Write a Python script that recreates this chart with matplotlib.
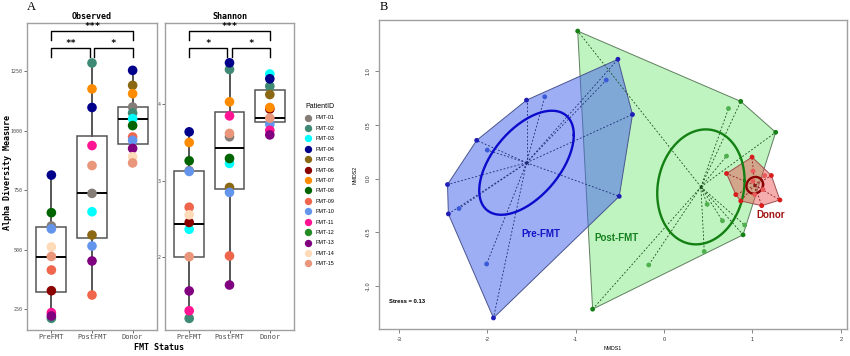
import numpy as np
import matplotlib.pyplot as plt
from matplotlib.lines import Line2D

groups = ['PreFMT', 'PostFMT', 'Donor']
patient_ids = ['FMT-%02d' % i for i in range(1, 16)]
patient_colors = ['#857e78', '#3f8a74', '#00ffff', '#00008b', '#8b6914',
                  '#8b0000', '#ff8c00', '#006400', '#f0664d', '#6495ed',
                  '#ff1493', '#228b22', '#800080', '#ffdab9', '#e9967a']

# alpha diversity, patient number -> value, one dict per group
obs_pre = {1: 600, 2: 212, 4: 814, 6: 328, 8: 656, 9: 415, 10: 588,
           11: 236, 13: 222, 14: 512, 15: 472}
obs_post = {1: 737, 2: 1285, 3: 660, 4: 1098, 5: 562, 7: 1176, 9: 310,
            10: 516, 11: 938, 13: 453, 15: 854}
obs_donor = {1: 1100, 2: 1075, 3: 1051, 4: 1254, 5: 1191, 7: 1156, 8: 1022,
             9: 974, 10: 960, 13: 926, 14: 891, 15: 865}
sha_pre = {1: 3.13, 2: 1.19, 3: 2.36, 4: 3.64, 6: 2.45, 7: 3.50, 8: 3.26,
           9: 2.65, 10: 3.12, 11: 1.29, 13: 1.55, 14: 2.55, 15: 2.00}
sha_post = {1: 3.575, 2: 4.46, 3: 3.225, 4: 4.547, 5: 2.91, 7: 4.035,
            8: 3.29, 9: 2.01, 10: 2.845, 11: 3.85, 13: 1.628, 15: 3.62}
sha_donor = {2: 4.24, 3: 4.40, 4: 4.337, 5: 4.13, 6: 3.94, 7: 3.96,
             10: 3.74, 11: 3.66, 13: 3.60, 15: 3.82}

# box statistics: whisker low, q1, median, q3, whisker high
obs_box = [[212, 324, 468, 597, 814], [310, 551, 737, 979, 1285],
           [865, 944, 1051, 1098, 1254]]
sha_box = [[1.19, 2.00, 2.43, 3.12, 3.64], [1.628, 2.884, 3.43, 3.895, 4.547],
           [3.60, 3.764, 3.825, 4.188, 4.40]]

sig_pairs = [(1, 3), (1, 2), (2, 3)]
obs_sig = ['***', '**', '*']
sha_sig = ['***', '*', '*']
obs_sig_y = [1419, 1349, 1349]
sha_sig_y = [4.967, 4.748, 4.748]

# NMDS scores
pre_x = [-2.45, -2.44, -2.32, -2.12, -2.00, -1.556, -1.35, -2.007, -1.93,
         -0.654, -0.522, -0.357, -0.507]
pre_y = [-0.056, -0.33, -0.28, 0.356, 0.265, 0.731, 0.762, -0.797, -1.30,
         0.918, 1.112, 0.597, -0.166]
post_x = [-0.977, -0.808, 0.868, 0.729, 1.263, 0.707, 0.488, 0.661, 0.913,
          0.894, 0.455, -0.173]
post_y = [1.375, -1.218, 0.719, 0.653, 0.431, 0.209, -0.241, -0.394, -0.434,
          -0.525, -0.681, -0.806]
donor_x = [0.707, 0.996, 1.214, 1.311, 1.105, 0.868, 0.812, 1.007, 1.139,
           1.12, 1.026, 1.007]
donor_y = [0.047, 0.2, 0.028, -0.2, -0.253, -0.209, -0.15, 0.069, 0.028,
           -0.103, -0.15, -0.025]
pre_centre = (-1.556, 0.147)
post_centre = (0.417, -0.078)
donor_centre = (1.026, -0.063)
# ellipse: sd x, sd y, correlation
pre_ell = [0.535, 0.485, 0.535]
post_ell = [0.494, 0.536, 0.113]
donor_ell = [0.094, 0.078, 0.1]
stress = 0.13

mono = 'DejaVu Sans Mono'
sans = 'Liberation Sans'

fig = plt.figure(figsize=(8.5, 3.56), dpi=100)


def alpha_panel(ax, title, box, data, sig_labels, sig_y, tip, ylim, yticks):
    stats = [dict(whislo=b[0], q1=b[1], med=b[2], q3=b[3], whishi=b[4], fliers=[])
             for b in box]
    ax.bxp(stats, positions=[1, 2, 3], widths=0.74, showfliers=False,
           showcaps=False, patch_artist=True,
           boxprops=dict(facecolor='white', edgecolor='#555555', linewidth=1.1),
           whiskerprops=dict(color='#555555', linewidth=1.4),
           medianprops=dict(color='black', linewidth=1.4))
    for gi, d in enumerate(data):
        ids = sorted(d)
        ax.scatter([gi + 1] * len(ids), [d[i] for i in ids],
                   c=[patient_colors[i - 1] for i in ids], s=48,
                   linewidths=0, zorder=3)
    for (x1, x2), lab, y in zip(sig_pairs, sig_labels, sig_y):
        a = x1 + (0.05 if x1 == 2 else 0)
        b = x2 - (0.05 if x2 == 2 else 0)
        ax.plot([a, a, b, b], [y - tip, y, y, y - tip], color='black', lw=1.0)
        ax.text((a + b) / 2, y, lab, ha='center', va='bottom', fontsize=6.5,
                family=mono, fontweight='bold')
    ax.set_xlim(0.4, 3.6)
    ax.set_ylim(*ylim)
    ax.set_yticks(yticks)
    ax.set_xticks([1, 2, 3])
    ax.set_xticklabels(groups, family=mono, fontsize=5, color='#4d4d4d')
    for t in ax.get_yticklabels():
        t.set_family(mono)
    ax.tick_params(axis='y', labelsize=3.6, labelcolor='#4d4d4d', length=2,
                   width=0.6, color='#555555', pad=1)
    ax.tick_params(axis='x', length=2, width=0.6, color='#555555', pad=1)
    for s in ax.spines.values():
        s.set_color('#a0a0a0')
        s.set_linewidth(1.0)
    ax.set_title(title, family=mono, fontsize=6, fontweight='bold', pad=3)


ax_obs = fig.add_axes([27 / 850, 26 / 356, 130 / 850, 307 / 356])
alpha_panel(ax_obs, 'Observed', obs_box, [obs_pre, obs_post, obs_donor],
            obs_sig, obs_sig_y, 39, (163, 1453), [250, 500, 750, 1000, 1250])
ax_sha = fig.add_axes([165 / 850, 26 / 356, 129 / 850, 307 / 356])
alpha_panel(ax_sha, 'Shannon', sha_box, [sha_pre, sha_post, sha_donor],
            sha_sig, sha_sig_y, 0.12, (1.037, 5.07), [2, 3, 4])

handles = [Line2D([], [], marker='o', ls='', markersize=5.3,
                  markerfacecolor=c, markeredgewidth=0) for c in patient_colors]
leg = fig.legend(handles, patient_ids, title='PatientID', loc='upper left',
                 bbox_to_anchor=(305 / 850, 1 - 103 / 356), frameon=False,
                 prop=dict(family=sans, size=3.9), labelspacing=1.0,
                 handletextpad=0.7, handlelength=1.2, borderaxespad=0,
                 borderpad=0, alignment='left')
leg.get_title().set_fontsize(5)
leg.get_title().set_family(sans)

fig.text(8 / 850, 1 - 172 / 356, 'Alpha Diversity Measure', rotation=90,
         family=mono, fontsize=6, fontweight='bold', ha='center', va='center')
fig.text(159 / 850, 1 - 347 / 356, 'FMT Status', family=mono, fontsize=6,
         fontweight='bold', ha='center', va='center')
fig.text(31 / 850, 1 - 7 / 356, 'A', family='Liberation Serif', fontsize=9,
         ha='center', va='center')
fig.text(384 / 850, 1 - 7 / 356, 'B', family='Liberation Serif', fontsize=9,
         ha='center', va='center')


def convex_hull(pts):
    pts = sorted(set(pts))

    def cross(o, a, b):
        return (a[0] - o[0]) * (b[1] - o[1]) - (a[1] - o[1]) * (b[0] - o[0])
    lower, upper = [], []
    for p in pts:
        while len(lower) >= 2 and cross(lower[-2], lower[-1], p) <= 0:
            lower.pop()
        lower.append(p)
    for p in reversed(pts):
        while len(upper) >= 2 and cross(upper[-2], upper[-1], p) <= 0:
            upper.pop()
        upper.append(p)
    return lower[:-1] + upper[:-1]


def ellipse_xy(centre, e):
    sx, sy, r = e
    cov = np.array([[sx * sx, r * sx * sy], [r * sx * sy, sy * sy]])
    L = np.linalg.cholesky(cov)
    t = np.linspace(0, 2 * np.pi, 200)
    xy = L @ np.vstack([np.cos(t), np.sin(t)])
    return centre[0] + xy[0], centre[1] + xy[1]


ax_b = fig.add_axes([379 / 850, 27 / 356, 468 / 850, 309 / 356])
nmds = [
    (post_x, post_y, post_centre, post_ell, (0.0, 0.82, 0.0, 0.25), '#5f7f5f',
     '#1a4d1a', '#168016', '#4fb04f', '#138013'),
    (pre_x, pre_y, pre_centre, pre_ell, (0.28, 0.40, 0.92, 0.53), '#4a5590',
     '#1c2a78', '#1f1fb8', '#3a5ad8', '#0b0bcc'),
    (donor_x, donor_y, donor_centre, donor_ell, (0.92, 0.29, 0.29, 0.45),
     '#a05050', '#8b1a1a', '#d91c1c', '#e85a5a', '#8b0000'),
]
for z, (xs, ys, c, e, fill, edge, spider, dark, light, ellc) in enumerate(nmds):
    pts = list(zip(xs, ys))
    hull = convex_hull(pts)
    hx = [p[0] for p in hull] + [hull[0][0]]
    hy = [p[1] for p in hull] + [hull[0][1]]
    ax_b.fill(hx, hy, facecolor=fill, edgecolor=edge, lw=0.7, zorder=1 + z)
for xs, ys, c, e, fill, edge, spider, dark, light, ellc in nmds:
    for x, y in zip(xs, ys):
        ax_b.plot([c[0], x], [c[1], y], ls=(0, (2.2, 2.2)), lw=0.6,
                  color=spider, zorder=5)
    ex, ey = ellipse_xy(c, e)
    ax_b.plot(ex, ey, color=ellc, lw=1.7, zorder=6)
    hull = set(convex_hull(list(zip(xs, ys))))
    cols = [dark if p in hull else light for p in zip(xs, ys)]
    ax_b.scatter(xs, ys, c=cols, s=12, linewidths=0, zorder=7)
    ax_b.scatter([c[0]], [c[1]], marker='x', s=6, color=spider, lw=0.6,
                 zorder=7)

ax_b.text(-1.394, -0.519, 'Pre-FMT', color='#1414c8', fontsize=7,
          fontweight='bold', family=sans, ha='center', va='center', zorder=8)
ax_b.text(-0.54, -0.55, 'Post-FMT', color='#14801e', fontsize=7,
          fontweight='bold', family=sans, ha='center', va='center', zorder=8)
ax_b.text(1.21, -0.337, 'Donor', color='#a01414', fontsize=7,
          fontweight='bold', family=sans, ha='center', va='center', zorder=8)
ax_b.text(-3.11, -1.15, 'Stress = %.2f' % stress, fontsize=4.2,
          fontweight='bold', family=sans, ha='left', va='center')

ax_b.set_xlim(-3.225, 2.07)
ax_b.set_ylim(-1.403, 1.478)
ax_b.set_xticks([-3, -2, -1, 0, 1, 2])
ax_b.set_yticks([-1.0, -0.5, 0.0, 0.5, 1.0])
ax_b.set_xticklabels(['-3', '-2', '-1', '0', '1', '2'], family=sans,
                     fontsize=4)
ax_b.set_yticklabels(['-1.0', '-0.5', '0.0', '0.5', '1.0'], family=sans,
                     fontsize=4, rotation=90, va='center')
ax_b.tick_params(length=3, width=0.5, color='#555555', labelcolor='#333333',
                 pad=3)
for s in ax_b.spines.values():
    s.set_color('#a0a0a0')
    s.set_linewidth(1.0)
ax_b.set_xlabel('NMDS1', family=sans, fontsize=3.8, labelpad=3)
ax_b.set_ylabel('NMDS2', family=sans, fontsize=3.8, labelpad=6)

fig.savefig('out.png', dpi=100)
